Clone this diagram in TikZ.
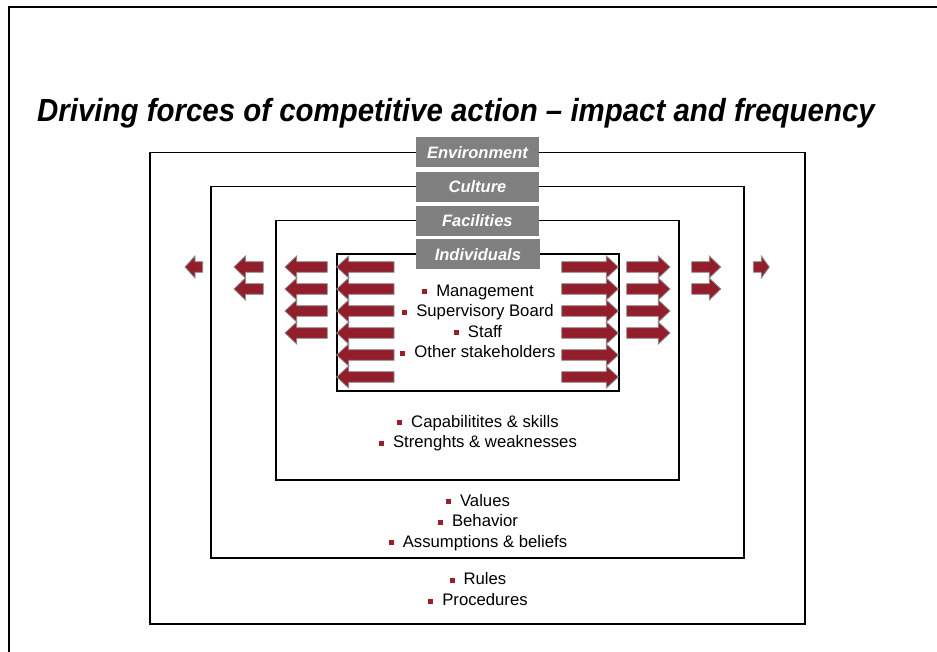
\documentclass[tikz,border=0pt]{standalone}
\usepackage{fontspec}
\setmainfont{Liberation Sans}
\newfontfamily\titlefont[FakeStretch=0.92]{Liberation Sans}
\definecolor{forcered}{RGB}{146,30,44}
\definecolor{tagfill}{RGB}{128,128,128}
\definecolor{bulletred}{RGB}{155,30,45}
\definecolor{arrowedge}{RGB}{140,140,140}

% small square bullet in front of each list entry
\newcommand\bul{\textcolor{bulletred}{\rule[1.8pt]{5pt}{5pt}}\hspace{9pt}}

% block arrow: tail x, tip x, row y, head length (signed, measured back from the tip)
\newcommand\blockarrow[4]{%
  \filldraw[forcearrow] (#1,{#3-5.3}) -- ({#2-(#4)},{#3-5.3}) -- ({#2-(#4)},{#3-11})
    -- (#2,#3) -- ({#2-(#4)},{#3+11}) -- ({#2-(#4)},{#3+5.3}) -- (#1,{#3+5.3}) -- cycle;}

\tikzset{
  frameline/.style={line width=2pt},
  layer/.style={draw=black, line width=1.6pt, inner sep=0pt, outer sep=0pt},
  tag/.style={fill=tagfill, minimum width=123.3pt, minimum height=30pt, inner sep=0pt,
    text=white, font=\fontsize{16.5}{18}\selectfont\bfseries\itshape},
  list/.style={align=center, inner sep=0pt, font=\fontsize{16.7}{20.6}\selectfont},
  forcearrow/.style={fill=forcered, draw=arrowedge, line width=0.8pt, line join=miter},
}

\begin{document}
\begin{tikzpicture}[x=1pt, y=-1pt]
\useasboundingbox (0,0) rectangle (937,652);
\fill[white] (0,0) rectangle (937,652);

% page frame (top and left edges)
\draw[frameline] (937,7) -- (8.5,7) -- (8.5,652);

% title
\node[anchor=base west, inner sep=0pt] (title) at (37,122)
  {\titlefont\fontsize{32}{36}\selectfont\bfseries\itshape Driving forces of competitive action – impact and frequency};

% nested layers
\node[layer, minimum width=655pt, minimum height=471.5pt] (env) at (477.5,388.25) {};
\node[layer, minimum width=533pt, minimum height=371.3pt] (cult) at (477.5,372.35) {};
\node[layer, minimum width=403.3pt, minimum height=259.3pt] (fac) at (477.35,350.35) {};
\node[layer, minimum width=282.3pt, minimum height=136.4pt] (ind) at (477.85,322.5) {};

% layer tags
\node[tag] (envtag) at (env.north) {Environment};
\node[tag] (culttag) at (cult.north) {Culture};
\node[tag] (factag) at (fac.north) {Facilities};
\node[tag] (indtag) at (ind.north) {Individuals};

% layer contents
\node[list] (indlist) at (478,321.3)
  {\bul Management\\\bul Supervisory Board\\\bul Staff\\\bul Other stakeholders};
\node[list] (faclist) at (478,433)
  {\bul Capabilitites \& skills\\\bul Strenghts \& weaknesses};
\node[list] (cultlist) at (478,522.3)
  {\bul Values\\\bul Behavior\\\bul Assumptions \& beliefs};
\node[list] (envlist) at (478,589.2)
  {\bul Rules\\\bul Procedures};

% forces pushing outwards from the individuals
\foreach \r in {267,289,311,333,355,377} {
  \blockarrow{394}{336.7}{\r}{-12}
  \blockarrow{561.7}{618.3}{\r}{12}
}
\foreach \r in {267,289,311,333} {
  \blockarrow{327.3}{285}{\r}{-11.7}
  \blockarrow{626.7}{670}{\r}{11.7}
}
\foreach \r in {267,289} {
  \blockarrow{263.3}{234}{\r}{-11.4}
  \blockarrow{691.7}{720.7}{\r}{11.4}
}
\blockarrow{202.7}{185}{267}{-10}
\blockarrow{753.3}{769.3}{267}{8}
\end{tikzpicture}
\end{document}
